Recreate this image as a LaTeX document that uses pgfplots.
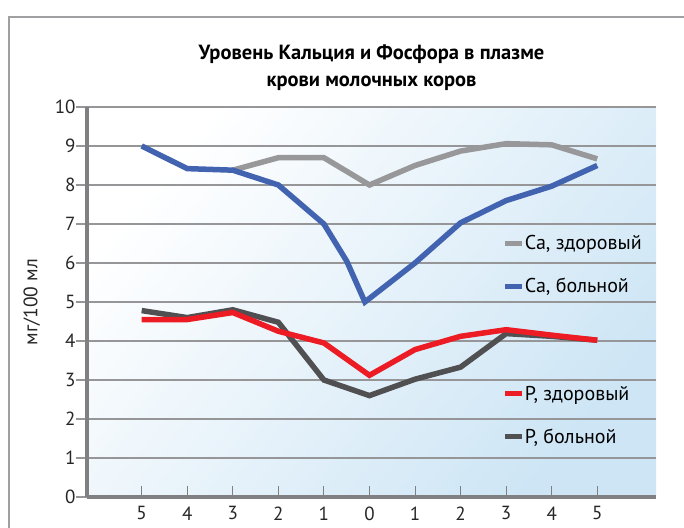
\documentclass[border=0pt]{standalone}
\usepackage{pgfplots}
\pgfplotsset{compat=1.18}
\usepackage{fontspec}
\setmainfont{PT Sans}
\definecolor{cagray}{RGB}{152,152,154}
\definecolor{cablue}{RGB}{66,99,175}
\definecolor{pred}{RGB}{237,28,36}
\definecolor{pdark}{RGB}{80,80,82}
\definecolor{axisgray}{RGB}{128,128,130}
\definecolor{gridgray}{RGB}{150,150,152}
\definecolor{framegray}{RGB}{160,160,162}
\definecolor{bgblue}{RGB}{205,229,245}

\pgfplotstableread{
x y
2 8.38
3 8.70
4 8.70
5 8.00
6 8.50
7 8.87
8 9.06
9 9.03
10 8.67
}\cahealthy
\pgfplotstableread{
x y
0 9.00
1 8.42
2 8.38
3 8.00
4 7.00
4.5 6.05
4.9 5.00
6 6.00
7 7.03
8 7.60
9 7.97
10 8.50
}\casick
\pgfplotstableread{
x y
0 4.55
1 4.55
2 4.73
3 4.25
4 3.95
5 3.12
6 3.78
7 4.12
8 4.29
9 4.15
10 4.02
}\phealthy
\pgfplotstableread{
x y
0 4.78
1 4.60
2 4.80
3 4.48
4 3.00
5 2.60
6 3.02
7 3.33
8 4.19
9 4.12
10 4.02
}\psick

\pgfplotsset{
  common/.style={
    at={(87pt,30pt)}, anchor=south west,
    scale only axis, width=569pt, height=390pt,
    xmin=-1.2, xmax=11.29, ymin=0, ymax=10,
    clip=false,
  },
  mylegend/.style={
    legend style={draw=none, fill=none, inner sep=0pt, outer sep=0pt,
      font=\fontsize{20}{22}\selectfont, row sep=27pt,
      nodes={inner sep=0pt, outer sep=0pt}},
    legend cell align=left,
    legend image code/.code={\draw[##1, line width=5pt] (0pt,0pt) -- (17pt,0pt);},
  },
}

\begin{document}
\begin{tikzpicture}
\useasboundingbox (0pt,0pt) rectangle (684pt,527pt);
\draw[framegray, line width=1.5pt] (9pt,-5pt) -- (9pt,510pt) -- (700pt,510pt);
\begin{axis}[common, mylegend,
  axis background/.style={shade, top color=white, bottom color=bgblue, shading angle=50},
  axis lines*=left,
  axis line style={line width=4pt, color=axisgray},
  tick align=inside, major tick length=11pt,
  xtick={0,...,10},
  xticklabels={5,4,3,2,1,0,1,2,3,4,5},
  ytick={0,...,10},
  ymajorgrids,
  grid style={line width=1.2pt, color=gridgray},
  xtick style={draw=axisgray, line width=1pt},
  ytick style={draw=gridgray, line width=1.2pt, xshift=-11pt},
  /pgf/number format/assume math mode=true,
  tick label style={font=\fontsize{19}{22}\selectfont, text=black!85},
  xticklabel style={yshift=-6pt},
  yticklabel style={xshift=-8pt},
  title={Уровень Кальция и Фосфора в плазме\\крови молочных коров},
  title style={font=\bfseries\fontsize{20.5}{27}\selectfont, align=center, yshift=7pt},
  ylabel={мг/100 мл},
  every axis y label/.style={at={(axis description cs:-0.097,0.5)}, rotate=90, anchor=center,
    font=\fontsize{19.5}{22}\selectfont, text=black!85},
  legend style={at={(0.731,0.670)}, anchor=north west},
]
\addplot[cagray, line width=5.5pt] table[x=x,y=y] {\cahealthy};
\addlegendentry{Ca, здоровый}
\addplot[cablue, line width=5.5pt] table[x=x,y=y] {\casick};
\addlegendentry{Ca, больной}
\end{axis}
\begin{axis}[common, mylegend,
  axis lines=none, ticks=none,
  reverse legend,
  legend style={at={(0.731,0.285)}, anchor=north west},
]
\addplot[pdark, line width=5.5pt] table[x=x,y=y] {\psick};
\addlegendentry{P, больной}
\addplot[pred, line width=5.5pt] table[x=x,y=y] {\phealthy};
\addlegendentry{P, здоровый}
\end{axis}
\end{tikzpicture}
\end{document}
